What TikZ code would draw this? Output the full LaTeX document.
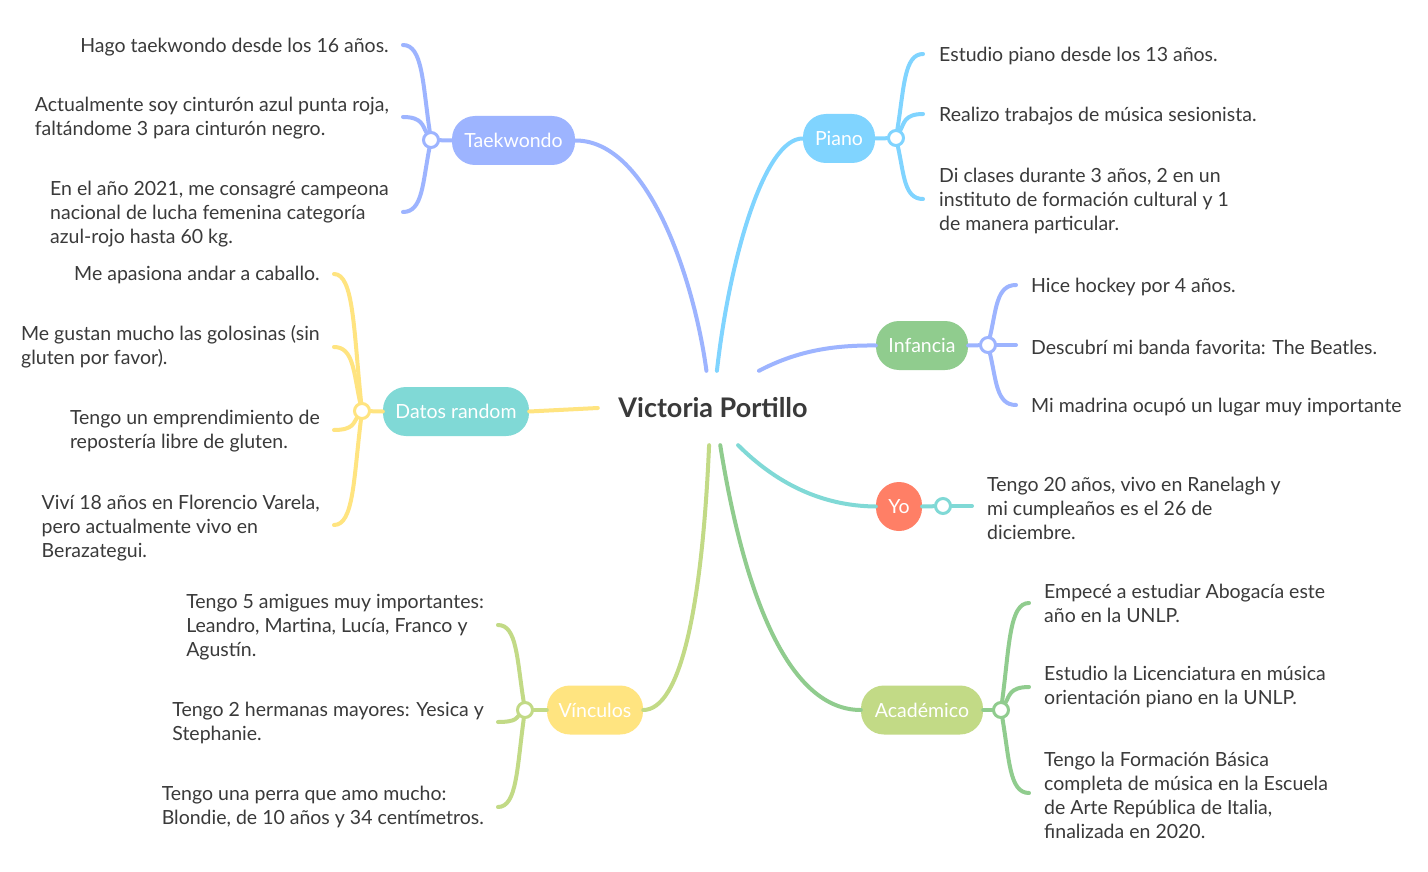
\documentclass[tikz,border=0pt]{standalone}
\usepackage{fontspec}
\setmainfont{Lato}
\usetikzlibrary{calc}
\definecolor{cTae}{HTML}{9DB4FF}
\definecolor{cPia}{HTML}{80D4FF}
\definecolor{cInf}{HTML}{90CC8E}
\definecolor{cYo}{HTML}{FF7F66}
\definecolor{cDat}{HTML}{80D9D6}
\definecolor{cVin}{HTML}{FFE480}
\definecolor{cAca}{HTML}{C2DA86}
\definecolor{txt}{HTML}{3A3A3A}
\newcommand\brc[3]{\draw[conn=#3] let \p1=(#1), \p2=(#2) in (#1) .. controls ({\x1+0.3*(\x2-\x1)},{\y1+0.6*(\y2-\y1)}) and ({\x1+0.3*(\x2-\x1)},\y2) .. (#2);}
\tikzset{
  pill/.style={fill=#1, text=white, rounded corners=23, minimum height=49, inner sep=0, font=\fontsize{19.5}{23}\selectfont},
  leaf/.style={inner sep=0, align=left, text=txt, font=\fontsize{19.5}{24}\selectfont},
  conn/.style={draw=#1, line width=4, line cap=round},
  junc/.style={circle, draw=#1, fill=white, line width=3, minimum size=15, inner sep=0},
}
\begin{document}
\begin{tikzpicture}[x=1pt,y=-1pt]
\useasboundingbox[fill=white] (0,0) rectangle (1428,872);

% central
\node[minimum width=230, minimum height=74, inner sep=0, font=\bfseries\fontsize{27}{32}\selectfont, text=txt] (ctr) at (713,408) {Victoria Portillo};

% main topic nodes
\node[pill=cTae, minimum width=123] (tae) at (513.5,140.5) {Taekwondo};
\node[pill=cPia, minimum width=72] (pia) at (839,138.5) {Piano};
\node[pill=cInf, minimum width=92] (inf) at (922,345.5) {Infancia};
\node[pill=cYo, minimum width=46] (yo) at (899,506.5) {Yo};
\node[pill=cDat, minimum width=146] (dat) at (456,411.5) {Datos random};
\node[pill=cVin, minimum width=96] (vin) at (595,710) {Vínculos};
\node[pill=cAca, minimum width=122] (aca) at (922,710) {Académico};

% connectors from centre
\draw[conn=cTae] (tae.east) .. controls (650,140) and (695,285) .. (ctr.100);
\draw[conn=cPia] (pia.west) .. controls (765,138) and (730,255) .. (ctr.84);
\draw[conn=cTae] (ctr.39) .. controls (795,352) and (830,345) .. (inf.west);
\draw[conn=cVin] (ctr.west) -- (dat.east);
\draw[conn=cDat] (ctr.304) .. controls (775,482) and (820,506) .. (yo.west);
\draw[conn=cAca] (ctr.264) .. controls (702,610) and (680,710) .. (vin.east);
\draw[conn=cInf] (ctr.281) .. controls (745,600) and (790,710) .. (aca.west);

% junctions
\node[junc=cTae] (jt) at (431,140) {};
\node[junc=cPia] (jp) at (896,138) {};
\node[junc=cTae] (ji) at (988,345) {};
\node[junc=cDat] (jy) at (943,506) {};
\node[junc=cVin] (jd) at (362,411) {};
\node[junc=cAca] (jv) at (525,710) {};
\node[junc=cInf] (ja) at (1001,710) {};

\draw[conn=cTae] (tae.west) -- (jt);
\draw[conn=cPia] (pia.east) -- (jp);
\draw[conn=cTae] (inf.east) -- (ji);
\draw[conn=cDat] (yo.east) -- (jy);
\draw[conn=cVin] (dat.west) -- (jd);
\draw[conn=cAca] (vin.west) -- (jv);
\draw[conn=cInf] (aca.east) -- (ja);

% branch end coordinates
\coordinate (t1) at (403,45);  \coordinate (t2) at (403,117); \coordinate (t3) at (403,212);
\coordinate (p1) at (923,54);  \coordinate (p2) at (923,114); \coordinate (p3) at (923,199);
\coordinate (i1) at (1016,285); \coordinate (i2) at (1016,345); \coordinate (i3) at (1016,405);
\coordinate (y1) at (972,506);
\coordinate (d1) at (334,274); \coordinate (d2) at (334,347); \coordinate (d3) at (334,430); \coordinate (d4) at (334,525);
\coordinate (v1) at (498,625); \coordinate (v2) at (498,722); \coordinate (v3) at (498,807);
\coordinate (a1) at (1029,603); \coordinate (a2) at (1029,687); \coordinate (a3) at (1029,793);

\brc{jt}{t1}{cTae} \brc{jt}{t2}{cTae} \brc{jt}{t3}{cTae}
\brc{jp}{p1}{cPia} \brc{jp}{p2}{cPia} \brc{jp}{p3}{cPia}
\brc{ji}{i1}{cTae} \draw[conn=cTae] (ji) -- (i2); \brc{ji}{i3}{cTae}
\draw[conn=cDat] (jy) -- (y1);
\brc{jd}{d1}{cVin} \brc{jd}{d2}{cVin} \brc{jd}{d3}{cVin} \brc{jd}{d4}{cVin}
\brc{jv}{v1}{cAca} \brc{jv}{v2}{cAca} \brc{jv}{v3}{cAca}
\brc{ja}{a1}{cInf} \brc{ja}{a2}{cInf} \brc{ja}{a3}{cInf}

% leaf texts
\node[leaf, anchor=east] (lt1) at (389,47) {Hago taekwondo desde los 16 años.};
\node[leaf, anchor=east] (lt2) at (389,118) {Actualmente soy cinturón azul punta roja,\\faltándome 3 para cinturón negro.};
\node[leaf, anchor=east] (lt3) at (389,214) {En el año 2021, me consagré campeona\\nacional de lucha femenina categoría\\azul-rojo hasta 60 kg.};

\node[leaf, anchor=west] (lp1) at (939,56) {Estudio piano desde los 13 años.};
\node[leaf, anchor=west] (lp2) at (939,116) {Realizo trabajos de música sesionista.};
\node[leaf, anchor=west] (lp3) at (939,201) {Di clases durante 3 años, 2 en un\\instituto de formación cultural y 1\\de manera particular.};

\node[leaf, anchor=west] (li1) at (1031,287) {Hice hockey por 4 años.};
\node[leaf, anchor=west] (li2) at (1031,347) {Descubrí mi banda favorita: The Beatles.};
\node[leaf, anchor=west] (li3) at (1031,407) {Mi madrina ocupó un lugar muy importante};

\node[leaf, anchor=west] (ly1) at (987,508) {Tengo 20 años, vivo en Ranelagh y\\mi cumpleaños es el 26 de\\diciembre.};

\node[leaf, anchor=east] (ld1) at (320,275) {Me apasiona andar a caballo.};
\node[leaf, anchor=east] (ld2) at (320,347) {Me gustan mucho las golosinas (sin\\gluten por favor).};
\node[leaf, anchor=east] (ld3) at (320,431) {Tengo un emprendimiento de\\repostería libre de gluten.};
\node[leaf, anchor=east] (ld4) at (320,528) {Viví 18 años en Florencio Varela,\\pero actualmente vivo en\\Berazategui.};

\node[leaf, anchor=east] (lv1) at (484,627) {Tengo 5 amigues muy importantes:\\Leandro, Martina, Lucía, Franco y\\Agustín.};
\node[leaf, anchor=east] (lv2) at (484,723) {Tengo 2 hermanas mayores: Yesica y\\Stephanie.};
\node[leaf, anchor=east] (lv3) at (484,807) {Tengo una perra que amo mucho:\\Blondie, de 10 años y 34 centímetros.};

\node[leaf, anchor=west] (la1) at (1044,603) {Empecé a estudiar Abogacía este\\año en la UNLP.};
\node[leaf, anchor=west] (la2) at (1044,687) {Estudio la Licenciatura en música\\orientación piano en la UNLP.};
\node[leaf, anchor=west] (la3) at (1044,795) {Tengo la Formación Básica\\completa de música en la Escuela\\de Arte República de Italia,\\finalizada en 2020.};
\end{tikzpicture}
\end{document}
